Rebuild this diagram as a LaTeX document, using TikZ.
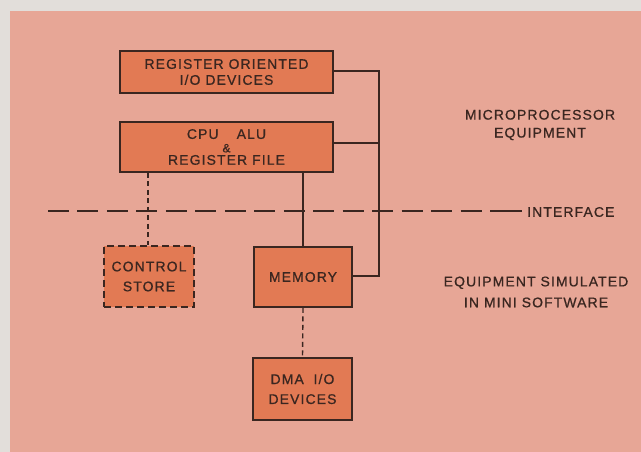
\documentclass[tikz,border=0pt]{standalone}
\usepackage{fontspec}
\setmainfont[LetterSpace=8,FakeBold=0.8]{Liberation Sans}
\definecolor{margin}{HTML}{E2DEDA}
\definecolor{paper}{HTML}{E7A696}
\definecolor{boxfill}{HTML}{E27A54}
\definecolor{ink}{HTML}{3A2620}
\begin{document}
\begin{tikzpicture}[x=1bp,y=-1bp,
  blk/.style={draw=ink,line width=1.7bp,fill=boxfill,inner sep=0pt,align=center,
     font=\fontsize{14}{16}\selectfont,text=ink},
  dblk/.style={blk,dash pattern=on 7bp off 4bp},
  wire/.style={draw=ink,line width=1.4bp},
  dwire/.style={wire,dash pattern=on 5bp off 3.5bp},
  lbl/.style={align=center,text=ink,inner sep=0pt}]
\fill[margin] (0,0) rectangle (641,452);
\fill[paper] (10,11) rectangle (641,452);
\useasboundingbox (0,0) rectangle (641,452);
% blocks
\node[blk,minimum width=213bp,minimum height=42bp] (reg) at (226.5,72) {REGISTER ORIENTED\\I/O DEVICES};
\node[blk,minimum width=213bp,minimum height=50bp] (cpu) at (226.5,147)
  {CPU\hspace{1.3em}ALU\\[-2.5bp]{\fontsize{12}{12}\selectfont\&}\\[-3.5bp]REGISTER FILE};
\node[blk,dblk,minimum width=90bp,minimum height=61bp,font=\fontsize{14}{20}\selectfont] (cs) at (149,276.5) {CONTROL\\STORE};
\node[blk,minimum width=98bp,minimum height=60bp] (mem) at (303,277) {MEMORY};
\node[blk,minimum width=99bp,minimum height=62bp,font=\fontsize{14}{20}\selectfont] (dma) at (302.5,389) {DMA\hspace{0.7em}I/O\\DEVICES};
% bus
\coordinate (bt) at (379,71);
\coordinate (bc) at (379,143);
\coordinate (bm) at (379,276);
\draw[wire] (reg.east |- bt) -- (bt) -- (bm) -- (mem.east |- bm);
\draw[wire] (cpu.east |- bc) -- (bc);
\draw[wire] (cpu.south -| mem.north) -- (mem.north);
\draw[dwire] (cpu.south -| 148,0) -- (cs.north -| 148,0);
\draw[dwire] (mem.south) -- (dma.north);
% interface line
\coordinate (i0) at (48,211);
\coordinate (i1) at (490,211);
\coordinate (i2) at (522,211);
\draw[wire,dash pattern=on 21bp off 8.47bp] (i0) -- (i1);
\draw[wire] (i1) -- (i2);
\node[lbl,anchor=west,font=\fontsize{14}{18}\selectfont] (intf) at (527,212) {INTERFACE};
\node[lbl,font=\fontsize{14}{18}\selectfont] (mp) at (540,125) {MICROPROCESSOR\\EQUIPMENT};
\node[lbl,font=\fontsize{14}{21}\selectfont] (es) at (536,292) {EQUIPMENT SIMULATED\\IN MINI SOFTWARE};
\end{tikzpicture}
\end{document}
